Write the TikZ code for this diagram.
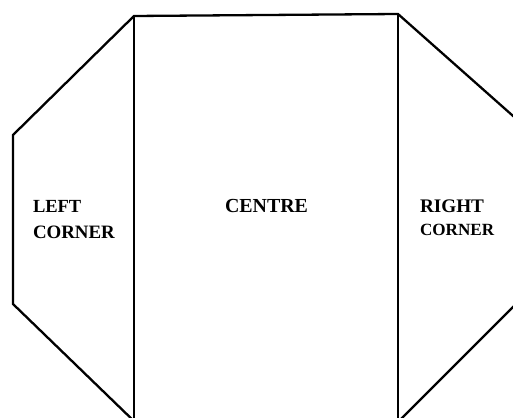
\documentclass[tikz,border=0pt]{standalone}
\usepackage{fontspec}
\setmainfont{Liberation Serif}
\begin{document}
\begin{tikzpicture}[x=1pt,y=-1pt,
  outline/.style={line width=2.3pt, line join=miter},
  divider/.style={line width=1.6pt},
  lbl/.style={anchor=base west, inner sep=0pt, outer sep=0pt}]
\useasboundingbox (0,0) rectangle (513,417);
\clip (0,0) rectangle (513,417);
% corner points
\coordinate (tl) at (134,16);
\coordinate (tr) at (398,14);
\coordinate (lu) at (13,135);
\coordinate (ll) at (13,304);
\coordinate (lb) at (138,425);
\coordinate (ru) at (530,131);
\coordinate (rb) at (395,425);
\coordinate (rl) at (530,290);
\coordinate (bl) at (134,430);
\coordinate (br) at (398,430);
% outline
\draw[outline] (lb) -- (ll) -- (lu) -- (tl) -- (tr) -- (ru);
\draw[outline] (rb) -- (rl);
% dividers
\draw[divider] (tl) -- (bl);
\draw[divider] (tr) -- (br);
% labels
\node[lbl, font=\bfseries\fontsize{18.5}{24}\selectfont] (left1) at (33,212) {LEFT};
\node[lbl, font=\bfseries\fontsize{18.9}{24}\selectfont] (left2) at (33,238) {CORNER};
\node[lbl, font=\bfseries\fontsize{19.9}{24}\selectfont] (centre) at (225,212) {CENTRE};
\node[lbl, font=\bfseries\fontsize{19.2}{24}\selectfont] (right1) at (420,212) {RIGHT};
\node[lbl, font=\bfseries\fontsize{17.1}{24}\selectfont] (right2) at (420,235) {CORNER};
\end{tikzpicture}
\end{document}
